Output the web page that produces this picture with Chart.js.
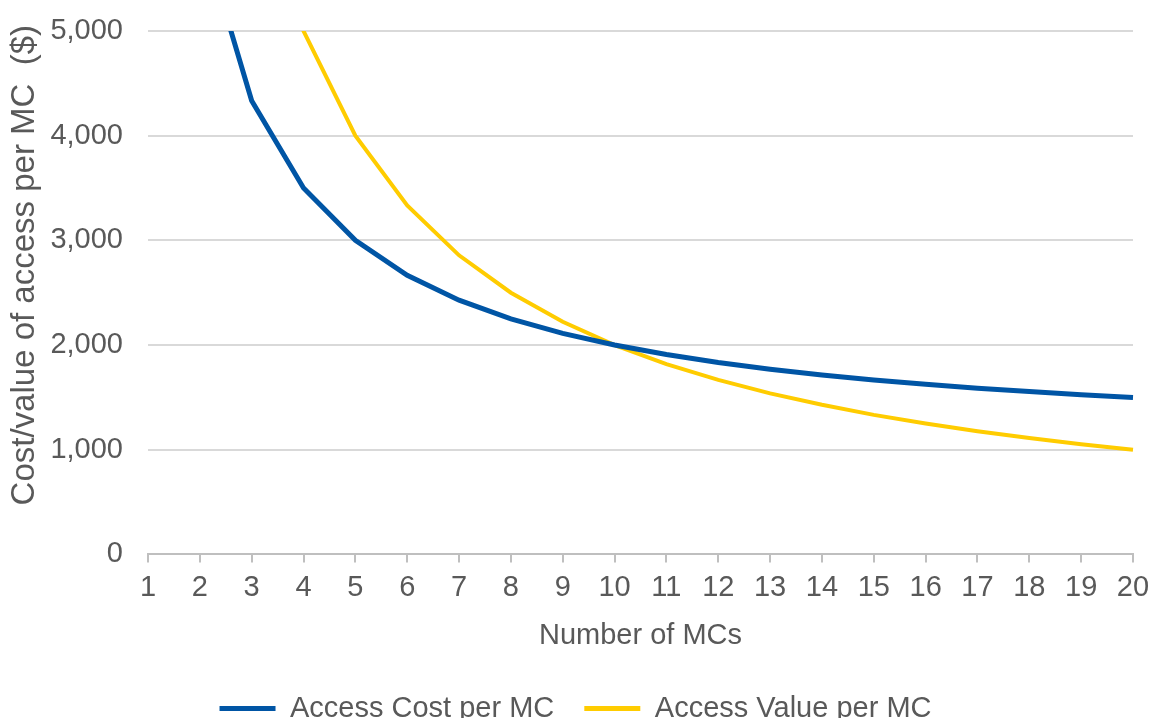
<!DOCTYPE html>
<html>
<head>
<meta charset="utf-8">
<title>Access cost vs value per MC</title>
<script src="https://cdn.jsdelivr.net/npm/chart.js@4"></script>
<style>
    html, body { margin: 0; padding: 0; background: #ffffff; }
    #wrap { width: 1151px; height: 718px; }
</style>
</head>
<body>
<div id="wrap"><canvas id="mc-chart"></canvas></div>
<script>
// Number of MCs (x axis)
const mcCounts = ['1', '2', '3', '4', '5', '6', '7', '8', '9', '10',
                  '11', '12', '13', '14', '15', '16', '17', '18', '19', '20'];

// Values ($); 1 and 2 sit above the top of the axis
const accessCost = [11000, 6000, 4333, 3500, 3000, 2667, 2429, 2250, 2111, 2000,
                    1909, 1833, 1769, 1714, 1667, 1625, 1588, 1556, 1526, 1500];
const accessValue = [20000, 10000, 6667, 5000, 4000, 3333, 2857, 2500, 2222, 2000,
                     1818, 1667, 1538, 1429, 1333, 1250, 1176, 1111, 1053, 1000];

const yTicks = [0, 1000, 2000, 3000, 4000, 5000];

const textColor = '#595959';
const fontFamily = '"Liberation Sans", Arial, sans-serif';

document.addEventListener('DOMContentLoaded', function() {
    const ctx = document.getElementById('mc-chart');

    new Chart(ctx, {
        type: 'line',
        data: {
            labels: mcCounts,
            datasets: [{
                label: 'Access Cost per MC',
                data: accessCost,
                borderColor: '#0055a5',
                backgroundColor: '#0055a5',
                borderWidth: 5,
                pointRadius: 0,
                tension: 0
            }, {
                label: 'Access Value per MC',
                data: accessValue,
                borderColor: '#ffcc00',
                backgroundColor: '#ffcc00',
                borderWidth: 4,
                pointRadius: 0,
                tension: 0
            }]
        },
        options: {
            responsive: true,
            maintainAspectRatio: false,
            animation: false,
            layout: {
                padding: { top: 0, right: 0, left: 0, bottom: -15 }
            },
            scales: {
                x: {
                    offset: false,
                    afterFit: function(scale) {
                        // keep the last category at x = 1133
                        scale.paddingRight = 18;
                    },
                    grid: {
                        drawOnChartArea: false,
                        drawTicks: true,
                        tickLength: 8,
                        color: '#bfbfbf',
                        lineWidth: 2
                    },
                    border: { color: '#bfbfbf', width: 2 },
                    ticks: {
                        color: textColor,
                        font: { family: fontFamily, size: 29 },
                        padding: 8,
                        maxRotation: 0,
                        autoSkip: false
                    },
                    title: {
                        display: true,
                        text: 'Number of MCs',
                        color: textColor,
                        font: { family: fontFamily, size: 29 },
                        padding: { top: 5, bottom: 11 }
                    }
                },
                y: {
                    min: 0,
                    max: 5000,
                    afterBuildTicks: function(scale) {
                        scale.ticks = yTicks.map(v => ({ value: v }));
                    },
                    afterFit: function(scale) {
                        // plot area starts at x = 148, top at y = 31
                        scale.width = 148;
                        scale.paddingTop = 31;
                        scale.paddingBottom = 0;
                    },
                    grid: {
                        drawTicks: false,
                        color: '#d9d9d9',
                        lineWidth: 2
                    },
                    border: { display: false },
                    ticks: {
                        color: textColor,
                        font: { family: fontFamily, size: 29 },
                        padding: 25,
                        callback: function(value) {
                            return value.toLocaleString('en-US');
                        }
                    },
                    title: {
                        display: true,
                        // leading spaces nudge the title up like the original
                        text: '      Cost/value of access per MC  ($)',
                        color: textColor,
                        font: { family: fontFamily, size: 33 },
                        padding: { top: 5, bottom: 4 }
                    }
                }
            },
            plugins: {
                legend: {
                    position: 'bottom',
                    labels: {
                        color: textColor,
                        font: { family: fontFamily, size: 29 },
                        boxWidth: 56,
                        boxHeight: 5,
                        padding: 30,
                        generateLabels: function(chart) {
                            const items = Chart.defaults.plugins.legend.labels.generateLabels(chart);
                            items.forEach(item => { item.lineWidth = 0; });
                            return items;
                        }
                    }
                },
                tooltip: { enabled: false }
            }
        }
    });
});
</script>
</body>
</html>
